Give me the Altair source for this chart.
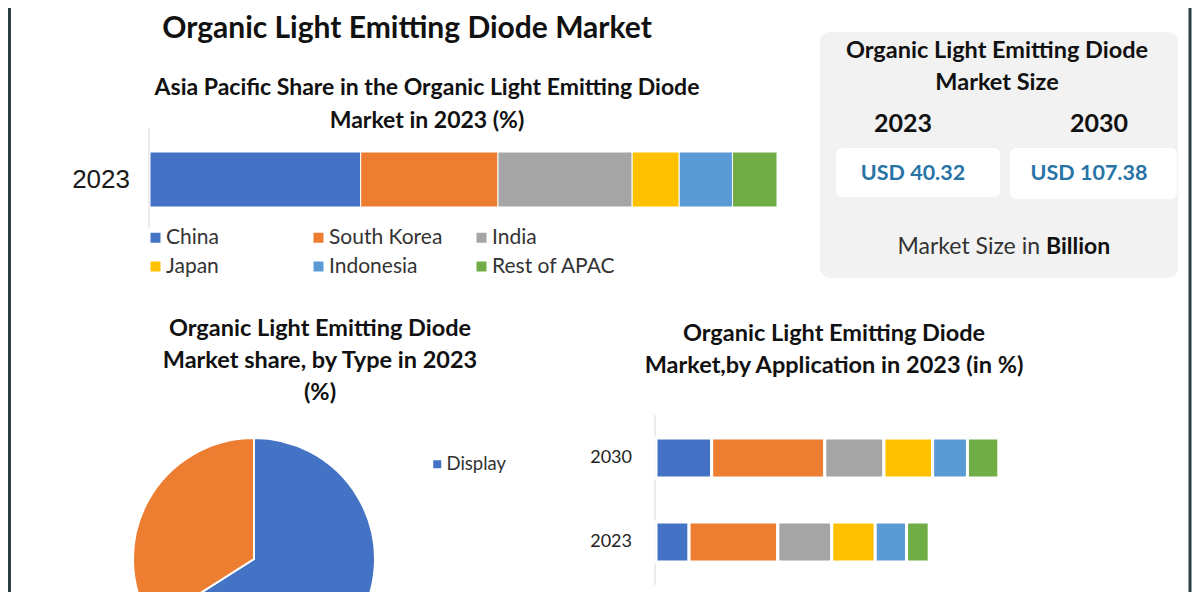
import altair as alt
import pandas as pd

# ---------------- data ----------------
asia_regions = ["China", "South Korea", "India", "Japan", "Indonesia", "Rest of APAC"]
asia_share = [33.6, 21.9, 21.4, 7.5, 8.5, 7.1]
asia_year = "2023"

type_names = ["Display", "Lighting"]
type_share = [66, 34]

app_years = ["2030", "2023"]
app_names = ["Passive Matrix OLED (PMOLED)", "Active Matrix OLED (AMOLED)", "Transparent OLED",
             "Top-Emitting OLED", "Foldable OLED", "White OLED"]
app_2030 = [16, 32.5, 17, 14, 10, 9]
app_2023 = [9.5, 25.5, 15.5, 12.5, 9, 6.5]

kpi_years = ["2023", "2030"]
kpi_values = [40.32, 107.38]

colors6 = ["#4472C4", "#ED7D31", "#A5A5A5", "#FFC000", "#5B9BD5", "#70AD47"]
FONT = "Lato"

asia_df = pd.DataFrame({"region": asia_regions, "share": asia_share,
                        "year": [asia_year] * len(asia_regions), "idx": list(range(len(asia_regions)))})
type_df = pd.DataFrame({"type": type_names, "share": type_share, "idx": [0, 1]})
app_rows = []
for i, n in enumerate(app_names):
    app_rows.append({"year": "2030", "app": n, "value": app_2030[i], "idx": i})
    app_rows.append({"year": "2023", "app": n, "value": app_2023[i], "idx": i})
app_df = pd.DataFrame(app_rows)
kpi_df = pd.DataFrame({"year": kpi_years, "value": kpi_values})

# legend is filled column by column: reorder so it reads row by row like the original
leg_order = [0, 3, 1, 4, 2, 5]
asia_leg_domain = [asia_regions[i] for i in leg_order]
asia_leg_range = [colors6[i] for i in leg_order]


def label(text, x, y, size, weight="bold", color="#111111", align="center"):
    return alt.Chart(alt.Data(values=[{}])).mark_text(
        text=text, font=FONT, fontSize=size, fontWeight=weight, color=color,
        align=align, baseline="middle").encode(x=alt.value(x), y=alt.value(y))


def box(x, x2, y, y2, fill, radius=0):
    return alt.Chart(alt.Data(values=[{}])).mark_rect(fill=fill, cornerRadius=radius).encode(
        x=alt.value(x), x2=alt.value(x2), y=alt.value(y), y2=alt.value(y2))


def vline(x, y, y2, color, width):
    return alt.Chart(alt.Data(values=[{}])).mark_rule(color=color, strokeWidth=width).encode(
        x=alt.value(x), y=alt.value(y), y2=alt.value(y2))


layers = []

# frame
layers.append(vline(1.5, 0, 584, "#2d3e44", 3))
layers.append(vline(1182, 0, 584, "#2d3e44", 3))

# main title
layers.append(label("Organic Light Emitting Diode Market", 399, 21, 30))

# ---------- Asia Pacific share (stacked bar) ----------
layers.append(label("Asia Pacific Share in the Organic Light Emitting Diode", 419, 80, 23))
layers.append(label("Market in 2023 (%)", 419, 113, 23))
layers.append(vline(141, 120, 220, "#d9d9d9", 1))

asia_y = alt.Y("year:N", scale=alt.Scale(range=[144, 199], paddingInner=0, paddingOuter=0), axis=None)
asia_bar = alt.Chart(asia_df).mark_bar(stroke="white", strokeWidth=1).encode(
    x=alt.X("share:Q", stack="zero", scale=alt.Scale(domain=[0, 100], range=[142, 769]), axis=None),
    y=asia_y,
    order=alt.Order("idx:Q"),
    color=alt.Color("region:N", scale=alt.Scale(domain=asia_leg_domain, range=asia_leg_range),
                    legend=alt.Legend(orient="none", legendX=137, legendY=219, columns=3, title=None,
                                      symbolType="square", symbolSize=100, symbolStrokeWidth=0,
                                      labelFont=FONT, labelFontSize=21, labelColor="#333333",
                                      gridAlign="all", columnPadding=18, rowPadding=7, labelOffset=0)),
)
asia_lbl = alt.Chart(pd.DataFrame({"year": [asia_year]})).mark_text(
    font="Liberation Sans", fontSize=26, align="right", baseline="middle", color="#1a1a1a"
).encode(y=asia_y, x=alt.value(122), text="year:N")
layers.append(alt.layer(asia_bar, asia_lbl))

# ---------- KPI box ----------
layers.append(box(812, 1170, 24, 270, "#f2f2f2", 10))
layers.append(label("Organic Light Emitting Diode", 989, 43, 23.5))
layers.append(label("Market Size", 989, 75, 23.5))
layers.append(box(828, 992, 140, 189, "#ffffff", 6))
layers.append(box(1002, 1169, 140, 191, "#ffffff", 6))
layers.append(alt.Chart(kpi_df).mark_text(font=FONT, fontSize=25, fontWeight="bold", color="#111111",
                                          baseline="middle").encode(
    x=alt.X("year:N", scale=alt.Scale(domain=kpi_years, range=[797, 1189], paddingInner=0, paddingOuter=0),
            axis=None),
    y=alt.value(116), text="year:N"))
layers.append(alt.Chart(kpi_df).transform_calculate(
    lab="'USD ' + format(datum.value, '.2f')").mark_text(
    font=FONT, fontSize=21.5, fontWeight="bold", color="#2874a6", baseline="middle").encode(
    x=alt.X("year:N", scale=alt.Scale(domain=kpi_years, range=[817, 1169], paddingInner=0, paddingOuter=0),
            axis=None),
    y=alt.value(166), text="lab:N"))
layers.append(label("Market Size in", 1032, 239, 23, weight="normal", color="#333333", align="right"))
layers.append(label("Billion", 1038, 239, 23, weight="bold", color="#111111", align="left"))

# ---------- Pie by type ----------
layers.append(label("Organic Light Emitting Diode", 312, 321, 23.5))
layers.append(label("Market share, by Type in 2023", 312, 353, 23.5))
layers.append(label("(%)", 312, 385, 23.5))
layers.append(alt.Chart(type_df).mark_arc(radius=121, stroke="white", strokeWidth=2).encode(
    theta=alt.Theta("share:Q", stack=True),
    order=alt.Order("idx:Q"),
    color=alt.Color("type:N", scale=alt.Scale(domain=type_names, range=["#4472C4", "#ED7D31"]),
                    legend=alt.Legend(orient="none", legendX=420, legendY=447, title=None,
                                      symbolType="square", symbolSize=64, symbolStrokeWidth=0,
                                      labelFont=FONT, labelFontSize=18.5, labelColor="#333333",
                                      rowPadding=118, labelOffset=0)),
    x=alt.value(246), y=alt.value(551)))

# ---------- Application stacked bars ----------
layers.append(label("Organic Light Emitting Diode", 826, 326, 23.5))
layers.append(label("Market,by Application in 2023 (in %)", 826, 358, 23.5))
layers.append(vline(647, 407, 577, "#d9d9d9", 1))
app_y = alt.Y("year:N", scale=alt.Scale(domain=app_years, range=[409, 575], paddingInner=0.5238,
                                        paddingOuter=0.25), axis=None)
app_bar = alt.Chart(app_df).mark_bar(stroke="white", strokeWidth=3).encode(
    x=alt.X("value:Q", stack="zero", scale=alt.Scale(domain=[0, 100], range=[648, 996]), axis=None),
    y=app_y,
    order=alt.Order("idx:Q"),
    color=alt.Color("app:N", scale=alt.Scale(domain=app_names, range=colors6), legend=None),
)
app_lbl = alt.Chart(pd.DataFrame({"year": app_years})).mark_text(
    font=FONT, fontSize=18, align="right", baseline="middle", color="#222222"
).encode(y=app_y, x=alt.value(624), text="year:N")
layers.append(alt.layer(app_bar, app_lbl))

chart = alt.layer(*layers).resolve_scale(
    x="independent", y="independent", color="independent"
).properties(
    width=1184, height=584, padding=0, autosize=alt.AutoSizeParams(type="none"), background="white"
).configure_view(stroke=None)

chart.save("out.html", embed_options={"renderer": "svg", "actions": False})
